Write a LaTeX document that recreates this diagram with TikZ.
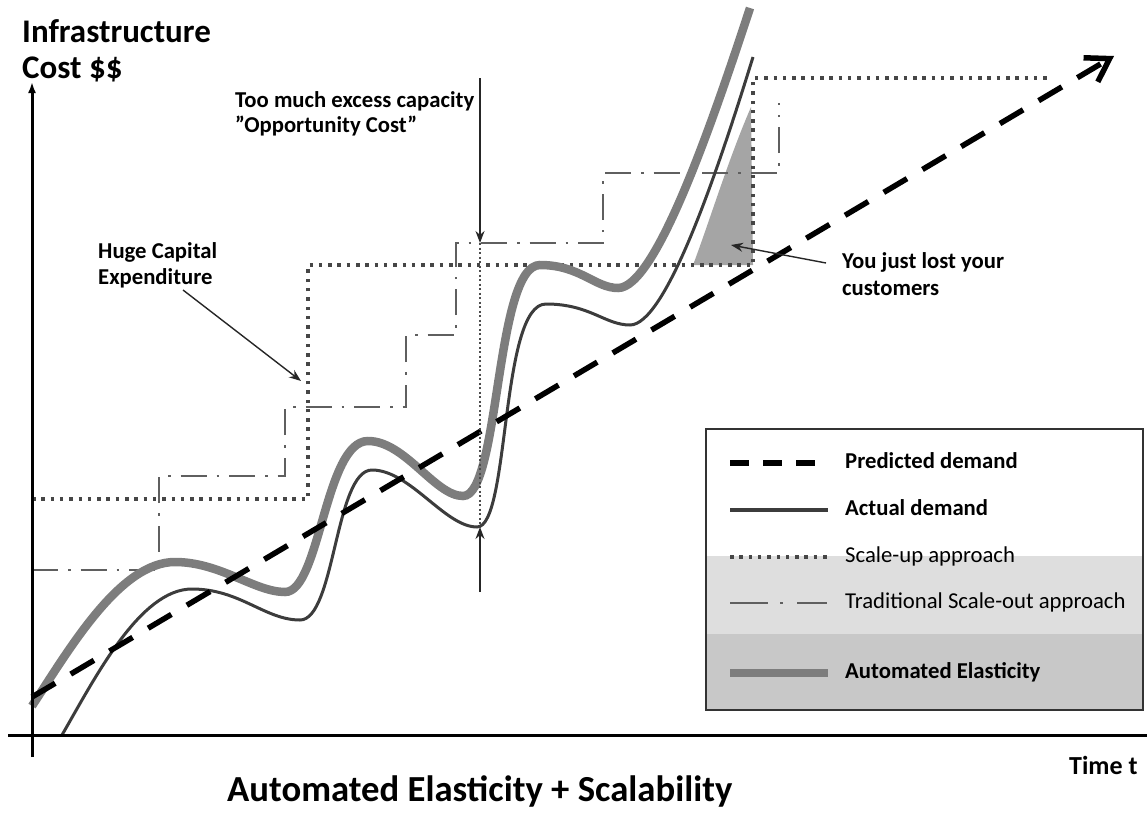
\documentclass[tikz,border=0pt]{standalone}
\usepackage{fontspec}
\setmainfont{Carlito}
\usetikzlibrary{arrows.meta}
\definecolor{thickgray}{RGB}{125,125,125}
\definecolor{thingray}{RGB}{60,60,60}
\definecolor{stepgray}{RGB}{95,95,95}
\definecolor{dotgray}{RGB}{70,70,70}
\definecolor{lossgray}{RGB}{165,165,165}
\definecolor{bandA}{RGB}{222,222,222}
\definecolor{bandB}{RGB}{200,200,200}
\begin{document}
\begin{tikzpicture}[x=1pt,y=-1pt,
  txt/.style={anchor=base west, inner sep=0pt, text=black},
  big/.style={txt, font=\bfseries\fontsize{33}{36}\selectfont},
  note/.style={txt, font=\bfseries\fontsize{22.7}{26}\selectfont},
  noteR/.style={txt, font=\fontsize{22.7}{26}\selectfont},
  title/.style={txt, font=\bfseries\fontsize{36.7}{40}\selectfont},
  axis/.style={line width=3pt, black},
  pred/.style={line width=5.5pt, black, dash pattern=on 27pt off 18pt},
  actual/.style={line width=3pt, thingray},
  elastic/.style={line width=8.5pt, thickgray},
  scaleup/.style={line width=3.5pt, dotgray, dash pattern=on 3.5pt off 5.8pt},
  scaleout/.style={line width=2.5pt, stepgray, dash pattern=on 26pt off 10pt on 2.5pt off 10pt},
  annot/.style={line width=1.4pt, black!85, -{Stealth[length=12pt,width=9pt]}}
]
\useasboundingbox (0,0) rectangle (1147,816);

% lost customers area
\fill[lossgray] (693,265) -- (753,265) -- (751,107) .. controls (728,160) and (710,220) .. cycle;

% scale-up (dotted)
\draw[scaleup] (32,499) -- (308,499) -- (308,265) -- (753,265) -- (753,78) -- (1052,78);

% traditional scale-out (dash-dot)
\draw[scaleout] (32,570) -- (159,570) -- (159,476) -- (285,476) -- (285,407) -- (406,407)
  -- (406,335) -- (456,335) -- (456,243) -- (603,243) -- (603,173) -- (779,173) -- (779,103);

% automated elasticity (thick gray)
\draw[elastic] (32,706) .. controls (70,648) and (120,562) .. (175,562)
  .. controls (220,562) and (255,592) .. (285,592)
  .. controls (320,592) and (325,441) .. (368,441)
  .. controls (405,441) and (435,496) .. (463,496)
  .. controls (500,496) and (495,265) .. (540,265)
  .. controls (580,265) and (595,288) .. (618,288)
  .. controls (655,288) and (710,130) .. (750,8);

% actual demand (thin)
\draw[actual] (62,735) .. controls (95,678) and (140,589) .. (192,589)
  .. controls (240,589) and (265,620) .. (300,620)
  .. controls (335,620) and (335,470) .. (372,470)
  .. controls (410,470) and (445,527) .. (477,527)
  .. controls (510,527) and (500,304) .. (546,304)
  .. controls (590,304) and (605,325) .. (630,325)
  .. controls (665,325) and (715,180) .. (753,57);

% predicted demand
\coordinate (p0) at (32,697);
\coordinate (p1) at (1114,56);
\draw[pred, -{Straight Barb[length=22pt,width=28pt,line width=5.5pt]}] (p0) -- (p1);

% axes
\coordinate (yb) at (32,757);
\coordinate (yt) at (32,82);
\coordinate (xl) at (8,735);
\coordinate (xr) at (1147,735);
\draw[axis, -{Latex[length=11pt,width=8pt]}] (yb) -- (yt);
\draw[axis] (xl) -- (xr);

% texts
\node[big] (ylab1) at (22,42) {Infrastructure};
\node[big] (ylab2) at (22,78) {Cost \$\$};
\node[note] (too1) at (235,107) {Too much excess capacity};
\node[note] (too2) at (235,132) {”Opportunity Cost”};
\node[note] (hce1) at (98,258) {Huge Capital};
\node[note] (hce2) at (98,284) {Expenditure};
\node[note] (lost1) at (842,268) {You just lost your};
\node[note] (lost2) at (842,295) {customers};
\node[txt, font=\bfseries\fontsize{26}{30}\selectfont] (time) at (1069,774) {Time t};
\node[title] (ttl) at (227,801) {Automated Elasticity + Scalability};

% annotation arrows
\coordinate (hceS) at (183,290);
\coordinate (hceT) at (301,381);
\draw[annot] (hceS) -- (hceT);
\coordinate (ocTop) at (480,78);
\coordinate (ocA) at (480,243);
\coordinate (ocB) at (480,527);
\coordinate (ocBot) at (480,592);
\draw[annot] (ocTop) -- (ocA);
\draw[line width=1.2pt, black!70, dash pattern=on 2pt off 2.5pt] (ocA) -- (ocB);
\draw[annot] (ocBot) -- (ocB);
\coordinate (lostS) at (826,263);
\coordinate (lostT) at (731,245);
\draw[annot] (lostS) -- (lostT);

% legend
\fill[bandA] (705,556) rectangle (1142,634);
\fill[bandB] (705,634) rectangle (1142,709);
\node[draw=black!80, line width=1.6pt, minimum width=437pt, minimum height=281pt, inner sep=0pt, anchor=north west] (leg) at (705,428) {};
\draw[line width=5.5pt, black, dash pattern=on 19pt off 14pt] (730,463) -- (816,463);
\draw[actual, line width=3.5pt] (730,510) -- (828,510);
\draw[scaleup] (730,557) -- (828,557);
\draw[scaleout, dash pattern=on 38pt off 12pt on 3pt off 14pt on 30pt] (730,603) -- (828,603);
\draw[elastic, line width=7.5pt] (730,673) -- (828,673);
\node[note] (l1) at (845,468) {Predicted demand};
\node[note] (l2) at (845,515) {Actual demand};
\node[noteR] (l3) at (845,562) {Scale-up approach};
\node[noteR] (l4) at (845,608) {Traditional Scale-out approach};
\node[note] (l5) at (845,678) {Automated Elasticity};
\end{tikzpicture}
\end{document}
